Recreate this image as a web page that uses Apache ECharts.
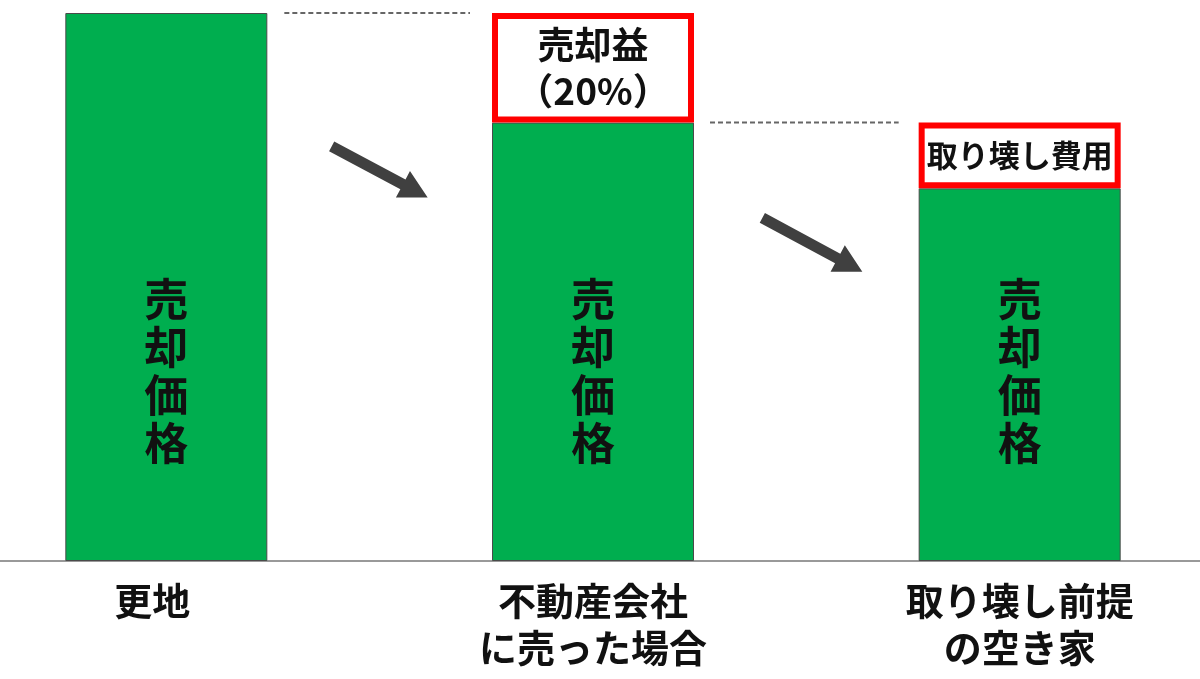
<!DOCTYPE html>
<html>
<head>
<meta charset="utf-8">
<script src="https://cdn.jsdelivr.net/npm/echarts@6/dist/echarts.min.js"></script>
<style>
html,body{margin:0;padding:0;background:#fff;}
#main{width:1200px;height:679px;}
</style>
</head>
<body>
<div id="main"></div>
<script>
// カテゴリと値
var categories = ['更地', '不動産会社\nに売った場合', '取り壊し前提\nの空き家'];
var priceValues = [100, 80, 68];          // 売却価格
var extraValues = ['-', 20, 12];          // 売却益 / 取り壊し費用
var extraLabels = ['', '売却益\n（20%）', '取り壊し費用'];
var extraFontSize = [0, 37, 31];
var priceLabel = '売\n却\n価\n格';

var FONT = '"Noto Sans CJK JP", "Noto Sans CJK SC", sans-serif';

var chart = echarts.init(document.getElementById('main'));

var extraData = extraValues.map(function (v, i) {
  return {
    value: v,
    label: { fontSize: extraFontSize[i], lineHeight: 46 }
  };
});

// 「更地」だけ少し左寄せ
var catData = categories.map(function (c, i) {
  return i === 0 ? { value: c, textStyle: { padding: [0, 28, 0, 0] } } : c;
});

var option = {
  animation: false,
  grid: { left: -47, right: -33, top: 13, bottom: 118, outerBoundsMode: 'none', containLabel: false },
  xAxis: {
    type: 'category',
    data: catData,
    axisTick: { show: false },
    axisLine: { lineStyle: { color: '#777', width: 1.5 } },
    axisLabel: {
      interval: 0,
      margin: 16,
      color: '#111',
      fontFamily: FONT,
      fontWeight: 'bold',
      fontSize: 38,
      lineHeight: 47
    }
  },
  yAxis: {
    type: 'value',
    min: 0,
    max: 100,
    show: false
  },
  series: [
    {
      name: '売却価格',
      type: 'bar',
      stack: 'total',
      barWidth: 202,
      data: priceValues,
      itemStyle: { color: '#00AE4F', borderColor: '#4a4a4a', borderWidth: 1 },
      label: {
        show: true,
        position: 'insideBottom',
        distance: 94,
        formatter: priceLabel,
        color: '#111',
        fontFamily: FONT,
        fontWeight: 'bold',
        fontSize: 44,
        lineHeight: 48
      }
    },
    {
      name: '追加',
      type: 'bar',
      stack: 'total',
      barWidth: 202,
      data: extraData,
      itemStyle: { color: '#fff', borderColor: '#ff0000', borderWidth: 6 },
      label: {
        show: true,
        position: 'inside',
        color: '#111',
        fontFamily: FONT,
        fontWeight: 'bold',
        formatter: function (p) { return extraLabels[p.dataIndex]; }
      }
    }
  ]
};
chart.setOption(option);

// 点線と矢印（バーの位置から計算）
function px(i, v) { return chart.convertToPixel({ gridIndex: 0 }, [i, v]); }

function arrowPoints(tx, ty, hx, hy) {
  var dx = hx - tx, dy = hy - ty;
  var len = Math.sqrt(dx * dx + dy * dy);
  var ux = dx / len, uy = dy / len;
  var nx = -uy, ny = ux;
  var headLen = 28, headW = 15, shaftW = 5.5;
  var bx = hx - ux * headLen, by = hy - uy * headLen;
  return [
    [tx + nx * shaftW, ty + ny * shaftW],
    [bx + nx * shaftW, by + ny * shaftW],
    [bx + nx * headW, by + ny * headW],
    [hx, hy],
    [bx - nx * headW, by - ny * headW],
    [bx - nx * shaftW, by - ny * shaftW],
    [tx - nx * shaftW, ty - ny * shaftW]
  ];
}

var c0 = px(0, 0), c1 = px(1, 0), c2 = px(2, 0);
var yTop1 = px(0, priceValues[0])[1];
var yTop3 = px(2, priceValues[2] + extraValues[2])[1];

var m1 = (c0[0] + c1[0]) / 2, m2 = (c1[0] + c2[0]) / 2 + 6;
var a1y = px(0, 71)[1], a2y = px(0, 57.7)[1];

chart.setOption({
  graphic: [
    {
      type: 'line',
      shape: { x1: c0[0] + 118, y1: yTop1, x2: c1[0] - 123, y2: yTop1 },
      style: { stroke: '#666', lineWidth: 2, lineDash: [5, 3] }
    },
    {
      type: 'line',
      shape: { x1: c1[0] + 117, y1: yTop3, x2: c2[0] - 121, y2: yTop3 },
      style: { stroke: '#666', lineWidth: 2, lineDash: [5, 3] }
    },
    {
      type: 'polygon',
      shape: { points: arrowPoints(m1 - 48, a1y - 25.5, m1 + 48, a1y + 25.5) },
      style: { fill: '#404040' }
    },
    {
      type: 'polygon',
      shape: { points: arrowPoints(m2 - 50, a2y - 27, m2 + 50, a2y + 27) },
      style: { fill: '#404040' }
    }
  ]
});
</script>
</body>
</html>
